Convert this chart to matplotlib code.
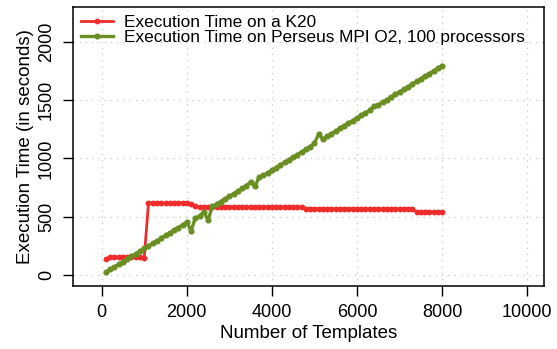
import matplotlib
matplotlib.use("Agg")
import matplotlib.pyplot as plt

# ---------------- data ----------------
templates = list(range(100, 8100, 100))

k20_time = [140, 155, 155, 155, 155, 155, 155, 155, 155, 150,
            620, 620, 620, 620, 620, 620, 620, 620, 620, 620,
            610, 592, 585, 585, 585, 585, 585, 585, 585, 585,
            585, 585, 585, 585, 585, 585, 585, 585, 585, 585,
            585, 585, 585, 585, 585, 585, 585, 570, 570, 570,
            570, 570, 570, 570, 570, 570, 570, 570, 570, 570,
            570, 570, 570, 570, 570, 570, 570, 570, 570, 570,
            570, 570, 570, 543, 543, 543, 543, 543, 543, 543]

perseus_time = [27, 50, 72, 94, 117, 139, 162, 184, 206, 229,
                251, 273, 296, 318, 341, 363, 385, 408, 430, 455,
                380, 490, 505, 545, 470, 590, 609, 631, 654, 676,
                698, 721, 743, 766, 800, 760, 840, 855, 877, 900,
                922, 945, 967, 989, 1012, 1034, 1056, 1079, 1101, 1130,
                1210, 1165, 1190, 1213, 1235, 1258, 1280, 1303, 1325, 1347,
                1370, 1392, 1414, 1450, 1460, 1481, 1504, 1526, 1549, 1571,
                1593, 1616, 1638, 1660, 1683, 1705, 1728, 1750, 1772, 1795]

xticks = [0, 2000, 4000, 6000, 8000, 10000]
yticks = [0, 500, 1000, 1500, 2000]

# ---------------- plot ----------------
plt.rcParams['font.family'] = ['Liberation Sans', 'DejaVu Sans']

fig = plt.figure(figsize=(5.57, 3.49), dpi=100)
ax = fig.add_axes([0.131, 0.18, 0.846, 0.80])

ax.plot(templates, k20_time, color='#EE2C2C', lw=2.0, marker='o', ms=3.2,
        label='Execution Time on a K20')
ax.plot(templates, perseus_time, color='#6B8E23', lw=2.4, marker='o', ms=3.4,
        label='Execution Time on Perseus MPI O2, 100 processors')

ax.set_xlim(-675, 10400)
ax.set_ylim(-94, 2298)
ax.set_xticks(xticks)
ax.set_yticks(yticks)
ax.set_yticklabels([str(v) for v in yticks], rotation=90, va='center')
ax.tick_params(labelsize=13, length=7, width=1, direction='out', pad=6)
ax.grid(True, color='#c8c8c8', linestyle=(0, (1, 4)), lw=0.9)
for s in ax.spines.values():
    s.set_linewidth(1.1)

ax.set_xlabel('Number of Templates', fontsize=13.5, labelpad=3)
ax.set_ylabel('Execution Time (in seconds)', fontsize=13.5, labelpad=3)

ax.legend(loc='upper left', frameon=False, fontsize=12.4, handlelength=1.9,
          handletextpad=0.6, borderaxespad=0.15, labelspacing=0.0,
          borderpad=0.3)

fig.savefig('out.png', dpi=100)
